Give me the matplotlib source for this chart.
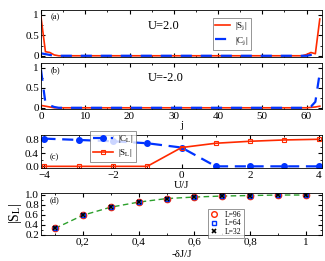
import numpy as np
import matplotlib
matplotlib.use("Agg")
import matplotlib.pyplot as plt
from matplotlib.ticker import MultipleLocator

plt.rcParams['font.family'] = ['Liberation Serif', 'DejaVu Serif']
plt.rcParams['mathtext.fontset'] = 'stix'
plt.rcParams['font.size'] = 8
plt.rcParams['xtick.direction'] = 'in'
plt.rcParams['ytick.direction'] = 'in'
plt.rcParams['xtick.top'] = True
plt.rcParams['ytick.right'] = True
plt.rcParams['xtick.major.size'] = 3
plt.rcParams['ytick.major.size'] = 3
plt.rcParams['xtick.minor.size'] = 1.5
plt.rcParams['ytick.minor.size'] = 1.5
plt.rcParams['axes.linewidth'] = 0.6
plt.rcParams['xtick.major.pad'] = 2
plt.rcParams['ytick.major.pad'] = 1.5

RED = '#ff2a00'
BLUE = '#0033ff'
GREEN = '#2ca02c'

# site index j (L = 64)
j = list(range(64))

# panel (a): U = 2.0
S_a = [0.95, 0.10, 0.08, 0.02, 0.0, 0.0, 0.0, 0.0, 0.0, 0.0, 0.0, 0.0, 0.0, 0.0, 0.0, 0.0,
       0.0, 0.0, 0.0, 0.0, 0.0, 0.0, 0.0, 0.0, 0.0, 0.0, 0.0, 0.0, 0.0, 0.0, 0.0, 0.0,
       0.0, 0.0, 0.0, 0.0, 0.0, 0.0, 0.0, 0.0, 0.0, 0.0, 0.0, 0.0, 0.0, 0.0, 0.0, 0.0,
       0.0, 0.0, 0.0, 0.0, 0.0, 0.0, 0.0, 0.0, 0.0, 0.0, 0.0, 0.0, 0.03, 0.08, 0.05, 0.90]
C_a = [0.06, 0.04, 0.02, 0.0, 0.0, 0.0, 0.0, 0.0, 0.0, 0.0, 0.0, 0.0, 0.0, 0.0, 0.0, 0.0,
       0.0, 0.0, 0.0, 0.0, 0.0, 0.0, 0.0, 0.0, 0.0, 0.0, 0.0, 0.0, 0.0, 0.0, 0.0, 0.0,
       0.0, 0.0, 0.0, 0.0, 0.0, 0.0, 0.0, 0.0, 0.0, 0.0, 0.0, 0.0, 0.0, 0.0, 0.0, 0.0,
       0.0, 0.0, 0.0, 0.0, 0.0, 0.0, 0.0, 0.0, 0.0, 0.0, 0.0, 0.0, 0.0, 0.02, 0.03, 0.05]

# panel (b): U = -2.0
S_b = [0.06, 0.04, 0.02, 0.0, 0.0, 0.0, 0.0, 0.0, 0.0, 0.0, 0.0, 0.0, 0.0, 0.0, 0.0, 0.0,
       0.0, 0.0, 0.0, 0.0, 0.0, 0.0, 0.0, 0.0, 0.0, 0.0, 0.0, 0.0, 0.0, 0.0, 0.0, 0.0,
       0.0, 0.0, 0.0, 0.0, 0.0, 0.0, 0.0, 0.0, 0.0, 0.0, 0.0, 0.0, 0.0, 0.0, 0.0, 0.0,
       0.0, 0.0, 0.0, 0.0, 0.0, 0.0, 0.0, 0.0, 0.0, 0.0, 0.0, 0.0, 0.0, 0.01, 0.02, 0.04]
C_b = [0.95, 0.12, 0.06, 0.02, 0.0, 0.0, 0.0, 0.0, 0.0, 0.0, 0.0, 0.0, 0.0, 0.0, 0.0, 0.0,
       0.0, 0.0, 0.0, 0.0, 0.0, 0.0, 0.0, 0.0, 0.0, 0.0, 0.0, 0.0, 0.0, 0.0, 0.0, 0.0,
       0.0, 0.0, 0.0, 0.0, 0.0, 0.0, 0.0, 0.0, 0.0, 0.0, 0.0, 0.0, 0.0, 0.0, 0.0, 0.0,
       0.0, 0.0, 0.0, 0.0, 0.0, 0.0, 0.0, 0.0, 0.0, 0.0, 0.0, 0.0, 0.0, 0.03, 0.15, 0.88]

# panel (c): edge values vs U/J
U = [-4, -3, -2, -1, 0, 1, 2, 3, 4]
C_L = [0.84, 0.80, 0.76, 0.70, 0.57, 0.0, 0.0, 0.0, 0.0]
S_L = [0.0, 0.0, 0.0, 0.0, 0.57, 0.70, 0.76, 0.80, 0.82]

# panel (d): |S_L| vs -dJ/J for several L
dJ = [0.1, 0.2, 0.3, 0.4, 0.5, 0.6, 0.7, 0.8, 0.9, 1.0]
S_96 = [0.33, 0.59, 0.75, 0.85, 0.92, 0.95, 0.97, 0.98, 0.99, 0.99]
S_64 = [0.33, 0.59, 0.75, 0.85, 0.92, 0.95, 0.97, 0.98, 0.99, 0.99]
S_32 = [0.33, 0.59, 0.75, 0.85, 0.92, 0.95, 0.97, 0.98, 0.99, 0.99]

W, H = 325, 261
fig = plt.figure(figsize=(W / 100, H / 100), dpi=100)


def box(left, top, right, bottom):
    return [left / W, 1 - bottom / H, (right - left) / W, (bottom - top) / H]


def small_legend(ax, anchor, **kw):
    leg = ax.legend(loc='upper left', bbox_to_anchor=anchor, frameon=True,
                    fancybox=False, edgecolor='0.4', borderpad=0.3, **kw)
    leg.get_frame().set_linewidth(0.6)
    return leg


ax_a = fig.add_axes(box(41, 10, 322, 57))
ax_b = fig.add_axes(box(41, 63, 322, 109))
ax_c = fig.add_axes(box(41, 135, 322, 168))
ax_d = fig.add_axes(box(41, 193, 322, 235))

# (a)
ax_a.plot(j, S_a, color=RED, lw=1.2, label='|S$_\\mathrm{j}$|')
ax_a.plot(j, C_a, color=BLUE, lw=1.6, ls=(0, (5, 4)), label='|C$_\\mathrm{j}$|')
ax_a.set_xlim(0, 63.5)
ax_a.set_ylim(-0.03, 1.12)
ax_a.set_yticks([0, 0.5, 1])
ax_a.set_yticklabels(['0', '0.5', '1'])
ax_a.yaxis.set_minor_locator(MultipleLocator(0.25))
ax_a.xaxis.set_major_locator(MultipleLocator(10))
ax_a.xaxis.set_minor_locator(MultipleLocator(5))
ax_a.tick_params(labelbottom=False)
ax_a.text(0.035, 0.93, '(a)', transform=ax_a.transAxes, fontsize=6, va='top')
ax_a.text(0.38, 0.6, 'U=2.0', transform=ax_a.transAxes, fontsize=9)
small_legend(ax_a, (0.595, 0.93), fontsize=6.5, handlelength=1.6, labelspacing=0.3,
             handletextpad=0.6)

# (b)
ax_b.plot(j, S_b, color=RED, lw=1.2)
ax_b.plot(j, C_b, color=BLUE, lw=1.6, ls=(0, (5, 4)))
ax_b.set_xlim(0, 63.5)
ax_b.set_ylim(-0.03, 1.12)
ax_b.set_yticks([0, 0.5, 1])
ax_b.set_yticklabels(['0', '0.5', '1'])
ax_b.yaxis.set_minor_locator(MultipleLocator(0.25))
ax_b.xaxis.set_major_locator(MultipleLocator(10))
ax_b.xaxis.set_minor_locator(MultipleLocator(5))
ax_b.text(0.035, 0.93, '(b)', transform=ax_b.transAxes, fontsize=6, va='top')
ax_b.text(0.38, 0.6, 'U=-2.0', transform=ax_b.transAxes, fontsize=9)
ax_b.set_xlabel('j', labelpad=0)

# (c)
ax_c.plot(U, C_L, color=BLUE, lw=1.6, ls=(0, (5, 3)), marker='o', ms=4,
          label='|C$_\\mathrm{L}$|')
ax_c.plot(U, S_L, color=RED, lw=1.2, marker='s', ms=3.5, mfc='none', mew=0.8,
          label='|S$_\\mathrm{L}$|')
ax_c.set_xlim(-4.1, 4.1)
ax_c.set_ylim(-0.05, 0.95)
ax_c.set_yticks([0.0, 0.4, 0.8])
ax_c.yaxis.set_minor_locator(MultipleLocator(0.2))
ax_c.xaxis.set_major_locator(MultipleLocator(2))
ax_c.xaxis.set_minor_locator(MultipleLocator(1))
ax_c.text(0.03, 0.45, '(c)', transform=ax_c.transAxes, fontsize=6, va='top')
ax_c.set_xlabel('U/J', labelpad=1)
small_legend(ax_c, (0.16, 1.27), fontsize=6.5, handlelength=2.2, labelspacing=0.2,
             handletextpad=0.5)

# (d)
ax_d.plot(dJ, S_96, color=GREEN, lw=1.0, ls=(0, (4, 2.5)))
ax_d.plot(dJ, S_96, ls='none', marker='o', ms=4.5, mfc='none', mec=RED, mew=1.0,
          label='L=96')
ax_d.plot(dJ, S_64, ls='none', marker='s', ms=3.5, mfc='none', mec=BLUE, mew=1.0,
          label='L=64')
ax_d.plot(dJ, S_32, ls='none', marker='x', ms=3, mew=1.2, color='black', label='L=32')
ax_d.set_xlim(0.05, 1.057)
ax_d.set_ylim(0.2, 1.03)
ax_d.set_yticks([0.2, 0.4, 0.6, 0.8, 1.0])
ax_d.yaxis.set_minor_locator(MultipleLocator(0.1))
ax_d.set_xticks([0.2, 0.4, 0.6, 0.8, 1.0])
ax_d.set_xticklabels(['0,2', '0,4', '0,6', '0,8', '1'])
ax_d.xaxis.set_minor_locator(MultipleLocator(0.1))
ax_d.text(0.03, 0.92, '(d)', transform=ax_d.transAxes, fontsize=6, va='top')
ax_d.set_xlabel('-δJ/J', labelpad=2)
ax_d.set_ylabel('|S$_\\mathrm{L}$|', fontsize=10, labelpad=1)
small_legend(ax_d, (0.595, 0.63), fontsize=5.5, handlelength=1.0, labelspacing=0.05,
             handletextpad=0.9, markerscale=0.9, borderaxespad=0.0)

fig.savefig('out.png', dpi=100)
